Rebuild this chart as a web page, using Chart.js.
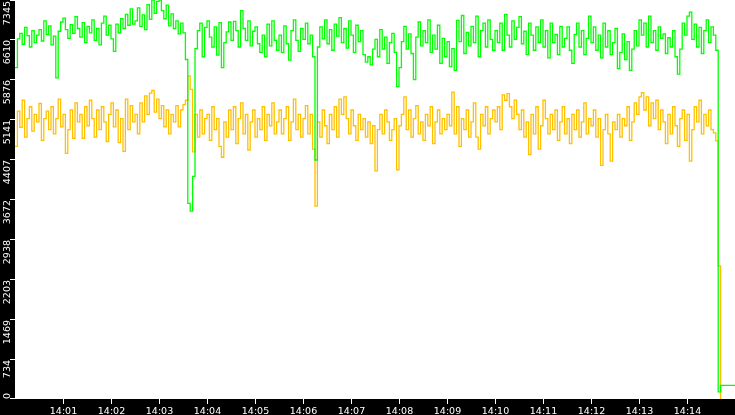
<!DOCTYPE html>
<html>
<head>
<meta charset="utf-8">
<script src="https://cdn.jsdelivr.net/npm/chart.js@4.4.1/dist/chart.umd.min.js"></script>
<style>
    html, body { margin: 0; padding: 0; background: #000; }
    canvas { display: block; }
</style>
</head>
<body>
<canvas id="trafficChart" width="735" height="415"></canvas>
<script>
// Sampling: one value every 3 seconds starting at 14:00:00
const SAMPLE_SECONDS = 3;
const X_MAX_SECONDS = 900;
const Y_MAX = 7345;

const xTickLabels = ['14:01', '14:02', '14:03', '14:04', '14:05', '14:06', '14:07',
    '14:08', '14:09', '14:10', '14:11', '14:12', '14:13', '14:14'];
const yTickLabels = ['0', '734', '1469', '2203', '2938', '3672', '4407', '5141', '5876', '6610', '7345'];

// Green series
const greenValues = [
    6100, 6630, 6730, 6530, 6840, 6690, 6480, 6780, 6560, 6700,
    6800, 6590, 6960, 6710, 6870, 6520, 6680, 5910, 6770, 6940,
    7010, 6800, 6640, 6890, 6730, 7040, 6820, 6660, 6930, 6560,
    6860, 6740, 6980, 6600, 6820, 6520, 6920, 7050, 6700, 6880,
    6630, 6400, 6900, 6740, 7000, 6820, 7080, 6880, 7180, 6900,
    6960, 7200, 6860, 7070, 6800, 7260, 6990, 7345, 7100, 7320,
    7345, 7150, 7000, 7250, 6870, 7090, 6820, 6960, 6720, 6920,
    6740, 6250, 3600, 3460, 4100, 6450, 6780, 6920, 6300, 6840,
    6960, 6660, 6480, 6850, 6330, 6930, 6100, 6560, 6760, 6940,
    6600, 6950, 6780, 6480, 7150, 6820, 6600, 6960, 6500, 6770,
    6850, 6540, 6380, 6700, 6300, 6900, 6500, 6960, 6600, 6420,
    6700, 6380, 6870, 6540, 6240, 6780, 6980, 6600, 6400, 6820,
    6620, 6920, 6540, 6700, 6300, 4400, 6480, 6850, 6630, 6980,
    6540, 6800, 6420, 6900, 6680, 7020, 6560, 6820, 6460, 6960,
    6700, 6380, 6880, 6580, 6780, 6340, 6200, 6300, 6150, 6440,
    6620, 6300, 6800, 6440, 6660, 6180, 6560, 6730, 6380, 5750,
    6100, 6580, 6860, 6440, 6720, 6360, 5880, 6660, 6940, 6500,
    6780, 6560, 6980, 6380, 6700, 6440, 6880, 6180, 6640, 6300,
    6580, 6120, 6450, 6050, 6970, 6580, 7060, 6360, 6750, 6500,
    6860, 6560, 7050, 6300, 6780, 6920, 6480, 6980, 6620, 6420,
    6780, 6560, 6920, 6420, 7080, 6700, 6480, 6960, 6620, 6840,
    7040, 6540, 6770, 6340, 6920, 6700, 6420, 6850, 6560, 6980,
    6480, 6780, 6280, 6920, 6560, 6710, 6340, 6860, 6480, 6640,
    6850, 6420, 6180, 6710, 6920, 6480, 6780, 6340, 6640, 7050,
    6560, 6850, 6420, 6700, 6280, 6920, 6480, 6780, 6340, 6560,
    6820, 6080, 6380, 6720, 6250, 6580, 6050, 6440, 6780, 6500,
    6980, 6700, 6920, 6480, 7050, 6560, 6780, 6420, 6850, 6640,
    6720, 6360, 6650, 6480, 6780, 6300, 5980, 6440, 6920, 6700,
    7050, 7120, 6620, 6900, 6480, 6840, 6360, 6780, 6980, 6560,
    6850, 6700, 6420,
    130, 250, 250, 250, 250, 250, 250, 250
];

// Yellow series
const yellowValues = [
    4650, 5300, 5000, 5500, 4820, 5160, 5380, 4930, 5240, 5100,
    5440, 4760, 5160, 5300, 4960, 5380, 4880, 5160, 5520, 5010,
    5240, 4520, 4960, 5320, 4800, 5450, 5100, 5240, 4800, 5380,
    5030, 5500, 5160, 4820, 5320, 4960, 5380, 5100, 4740, 5240,
    5450, 5010, 5320, 4720, 5160, 4560, 5520, 4960, 5400, 5100,
    5240, 4880, 5450, 5100, 5580, 5240, 5630, 5680, 5280, 5520,
    5160, 5400, 5010, 5320, 4880, 5240, 5100, 5400, 5010, 5320,
    5420, 5500, 5950, 5700, 4550, 5240, 4820, 5320, 4880, 5160,
    5240, 4760, 5380, 4960, 5160, 4650, 4450, 5100, 4820, 5320,
    4960, 5380, 4700, 5160, 5450, 4880, 5240, 4580, 5100, 5320,
    4820, 5160, 4960, 5380, 4760, 5240, 5030, 5450, 4880, 5100,
    5320, 4880, 5160, 5380, 4760, 5100, 5520, 4960, 5240, 4820,
    5160, 5400, 4880, 5240, 4600, 3550, 5100, 4820, 5320, 5030,
    4700, 5240, 4960, 5380, 4820, 5520, 5240, 5560, 5160, 4880,
    5320, 5030, 4760, 5240, 4960, 5160, 4820, 5100, 4700, 5030,
    4200, 4960, 5240, 4880, 5320, 5100, 4760, 4960, 5160, 4220,
    5030, 5240, 5560, 4960, 5320, 4820, 5160, 5400, 4880, 5100,
    4760, 5240, 5030, 5380, 4700, 5100, 5320, 4880, 5160, 4960,
    5240, 5030, 5650, 4880, 5380, 4650, 5160, 4960, 5320, 4820,
    5100, 5450, 4820, 4600, 5240, 5030, 5380, 4880, 5160, 5320,
    5100, 5380, 4960, 5600, 5500, 5620, 5380, 5160, 5500, 5240,
    4960, 5320, 4820, 5100, 4500, 5240, 4880, 5380, 4600, 5030,
    5500, 5160, 4880, 5240, 4960, 5320, 4760, 5100, 5380, 4880,
    5160, 4700, 5240, 4960, 5320, 4820, 5100, 5450, 4880, 5160,
    5030, 5320, 4820, 5160, 4300, 4960, 5240, 4880, 4380, 5100,
    4960, 5240, 4820, 5160, 5030, 5380, 4760, 5100, 5450, 5240,
    5560, 5640, 5320, 5560, 5030, 5450, 5160, 5500, 4960, 5320,
    5100, 4700, 5240, 4880, 5380, 5030, 4650, 5160, 5320, 4760,
    5240, 4380, 4960, 5380, 5100, 5500, 4880, 5240, 5030, 5320,
    4960, 4900, 4750,
    2450, 0
];

function toPoints(values) {
    return values.map((v, i) => ({ x: i * SAMPLE_SECONDS, y: v }));
}

const AXIS_FONT = '9.5px "DejaVu Sans"';

// Draws the black axis strips, tick marks and labels
const axisStrips = {
    id: 'axisStrips',
    beforeDraw(chart) {
        const ctx = chart.ctx;
        ctx.save();
        ctx.fillStyle = '#ffffff';
        ctx.fillRect(0, 0, chart.width, chart.height);
        ctx.restore();
    },
    afterDraw(chart) {
        const ctx = chart.ctx;
        const area = chart.chartArea;
        const xScale = chart.scales.x;
        const yScale = chart.scales.y;

        ctx.save();
        ctx.fillStyle = '#000000';
        ctx.fillRect(0, 0, area.left, chart.height);
        ctx.fillRect(0, area.bottom, chart.width, chart.height - area.bottom);

        ctx.fillStyle = '#ffffff';
        ctx.font = AXIS_FONT;

        // y axis
        yTickLabels.forEach((label, i) => {
            const y = yScale.getPixelForValue(i * Y_MAX / 10);
            const ty = Math.min(Math.floor(y), area.bottom - 1);
            ctx.fillRect(area.left - 5, ty, 5, 1);
            const w = ctx.measureText(label).width;
            const start = Math.min(ty + 1 + w, area.bottom);
            ctx.save();
            ctx.translate(area.left - 5, start);
            ctx.rotate(-Math.PI / 2);
            ctx.textAlign = 'left';
            ctx.textBaseline = 'alphabetic';
            ctx.fillText(label, 0, 0);
            ctx.restore();
        });

        // x axis
        ctx.textAlign = 'center';
        ctx.textBaseline = 'alphabetic';
        xTickLabels.forEach((label, i) => {
            const x = Math.round(xScale.getPixelForValue((i + 1) * 60));
            ctx.fillRect(x, area.bottom, 1, 5);
            ctx.fillText(label, x + 0.5, chart.height - 1);
        });
        ctx.restore();
    }
};

const chart = new Chart(document.getElementById('trafficChart').getContext('2d'), {
    type: 'line',
    data: {
        datasets: [
            {
                label: 'green',
                data: toPoints(greenValues),
                borderColor: '#00ff00',
                borderWidth: 1.3,
                pointRadius: 0,
                stepped: true,
                fill: false
            },
            {
                label: 'yellow',
                data: toPoints(yellowValues),
                borderColor: '#ffc000',
                borderWidth: 1.3,
                pointRadius: 0,
                stepped: true,
                fill: false
            }
        ]
    },
    options: {
        responsive: false,
        animation: false,
        devicePixelRatio: 1,
        layout: {
            padding: { left: 15, right: 0, top: 0, bottom: 16 }
        },
        plugins: {
            legend: { display: false },
            tooltip: { enabled: false }
        },
        scales: {
            x: {
                type: 'linear',
                min: 0,
                max: X_MAX_SECONDS,
                display: false
            },
            y: {
                type: 'linear',
                min: 0,
                max: Y_MAX,
                display: false
            }
        }
    },
    plugins: [axisStrips]
});
</script>
</body>
</html>
